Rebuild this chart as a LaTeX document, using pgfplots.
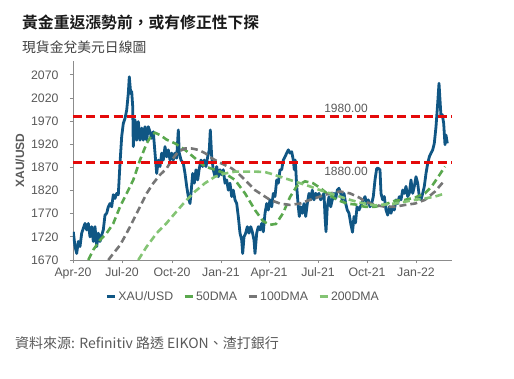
\documentclass[border=0pt]{standalone}
\usepackage{pgfplots}
\pgfplotsset{compat=1.18}
\usepackage{fontspec}
\setmainfont{Liberation Sans}
\newfontfamily\cjk{Noto Sans CJK TC}
\newfontfamily\cjkb{Noto Sans CJK TC Bold}
\definecolor{xaublue}{RGB}{16,86,132}
\definecolor{mafifty}{RGB}{90,168,78}
\definecolor{mahund}{RGB}{118,118,118}
\definecolor{matwo}{RGB}{132,196,116}
\definecolor{refred}{RGB}{228,10,10}
\definecolor{labelgray}{RGB}{89,89,89}
\definecolor{axisgray}{RGB}{140,140,140}
\begin{document}
\begin{tikzpicture}
\path[use as bounding box] (0pt,0pt) rectangle (514pt,-379pt);
\node[anchor=west, inner sep=0pt, font=\cjkb\fontsize{15.8}{17}\selectfont, text=black!90] at (22pt,-22pt) {黃金重返漲勢前，或有修正性下探};
\node[anchor=west, inner sep=0pt, font=\cjk\fontsize{13.8}{15}\selectfont, text=black!75] at (22pt,-47pt) {現貨金兌美元日線圖};
\node[anchor=west, inner sep=0pt, font=\cjk\fontsize{14}{15}\selectfont, text=labelgray] at (15pt,-343pt) {資料來源: Refinitiv 路透 EIKON、渣打銀行};
\begin{axis}[
  at={(73pt,-260pt)}, anchor=south west,
  scale only axis, width=379pt, height=199pt,
  xmin=0, xmax=379, ymin=1670, ymax=2100,
  xtick={0,49,99,148,196,245,294,343},
  xticklabels={Apr-20,Jul-20,Oct-20,Jan-21,Apr-21,Jul-21,Oct-21,Jan-22},
  ytick={1670,1720,...,2070},
  axis x line*=bottom, axis y line*=left,
  axis line style={axisgray, line width=0.8pt},
  tick style={axisgray, line width=0.8pt},
  tick align=outside, major tick length=3pt,
  /pgf/number format/assume math mode=true,
  /pgf/number format/1000 sep={},
  ticklabel style={font=\fontsize{12.3}{13}\selectfont, text=labelgray},
  yticklabel style={xshift=-8pt},
  xticklabel style={yshift=-1pt},
  ylabel={\textbf{XAU/USD}},
  ylabel style={at={(axis description cs:-0.14,0.5)}, anchor=center, font=\fontsize{12}{13}\selectfont, text=labelgray},
  clip=true,
  legend style={at={(0.449,-0.184)}, anchor=center, draw=none, fill=none,
    font=\fontsize{12.3}{13}\selectfont, text=labelgray, inner sep=0pt,
    /tikz/every even column/.append style={column sep=8pt}},
  legend columns=4,
  legend cell align=left,
  legend image code/.code={\draw[#1, solid, line width=3pt] (0pt,0pt) -- (8pt,0pt);},
]
\addplot[draw=xaublue, line width=2.8pt, line join=round] coordinates {
(0.3,1731)(2,1699)(3.7,1684)(5.3,1710)(7,1699)(8.7,1728)(12,1749)(13.7,1735)(15.3,1749)(17,1720)
(18.7,1742)(20.3,1710)(22,1742)(23.7,1699)(25.3,1728)(27,1710)(28.7,1724)(30.3,1735)(32,1767)(33.7,1771)
(35.3,1785)(37,1792)(38.7,1785)(40.3,1811)(42,1803)(43.7,1814)(45.3,1811)(47,1879)(48.7,1937)(50.3,1965)
(52,1976)(53.7,1994)(55.3,2030)(56.3,2066)(57.7,2030)(58.7,2034)(59.7,2002)(60.3,1915)(62,1973)(63.7,1929)
(65.3,1969)(67,1929)(68.7,1955)(70.3,1929)(72,1958)(73.7,1929)(75.3,1958)(77,1947)(78.7,1933)(80.3,1947)
(82,1901)(83.7,1857)(85.3,1886)(87,1872)(88.7,1901)(90.3,1886)(92,1915)(93.7,1893)(95.3,1908)(97,1886)
(98.7,1901)(100.3,1886)(102,1901)(103.7,1890)(105.3,1951)(106.3,1901)(108,1886)(110.3,1879)(112,1857)(113.7,1829)
(115.3,1807)(117,1792)(118,1814)(119.7,1857)(121.3,1836)(123,1865)(124.7,1843)(126.3,1868)(128,1886)(129.7,1872)
(131.3,1886)(133,1872)(134.7,1893)(136.3,1908)(137.3,1951)(138.7,1893)(140.3,1865)(142,1850)(143.7,1872)(145.3,1850)
(147,1865)(148.7,1854)(150.3,1865)(152,1836)(153.7,1843)(155.3,1821)(157,1836)(158.7,1807)(160.3,1821)(162,1800)
(163.7,1792)(165.3,1764)(167,1728)(168.7,1713)(169.7,1684)(171,1720)(172.7,1728)(174.3,1742)(176,1728)(177.7,1742)
(179.3,1731)(181,1713)(182,1684)(183.7,1728)(185.3,1742)(187,1735)(188.7,1749)(190.3,1731)(192,1771)(193.7,1792)
(195.3,1778)(197,1800)(198.7,1785)(200.3,1814)(202,1807)(203.7,1843)(205.3,1836)(207,1865)(208.7,1865)(210.3,1886)
(212,1893)(213.7,1901)(215.3,1908)(217,1901)(218.7,1904)(220.3,1886)(221.3,1865)(222.3,1886)(223.7,1829)(225.3,1785)
(226.3,1764)(227.7,1785)(229.3,1771)(231,1792)(232.7,1764)(234.3,1792)(236,1814)(237.7,1800)(239.3,1821)(241,1800)
(242.7,1814)(244.3,1807)(246,1814)(247.7,1800)(249.3,1807)(251,1814)(252,1764)(253,1731)(254.3,1785)(256,1807)
(257.7,1785)(259.3,1800)(261,1814)(262.7,1803)(264.3,1821)(266,1825)(267.7,1814)(269.3,1800)(271,1814)(272.7,1792)
(274.3,1778)(276,1771)(277.7,1749)(279.5,1730)(281,1764)(282.5,1750)(284,1785)(286,1778)(288.7,1792)(292,1807)
(293.7,1792)(295.3,1800)(297,1785)(298.7,1792)(300.3,1807)(302,1843)(303.7,1868)(305.3,1868)(307,1865)(308,1814)
(309.7,1800)(311.3,1807)(313,1778)(314.7,1767)(316.3,1785)(318,1771)(319.7,1785)(321.3,1778)(323,1800)(324.7,1792)
(326.3,1807)(328,1800)(329.7,1821)(331.3,1814)(333,1829)(334.7,1807)(336.3,1814)(338,1843)(339.7,1814)(341.3,1829)
(343,1850)(344.7,1836)(346.3,1807)(348,1800)(349.7,1814)(351.3,1829)(353,1857)(354.7,1879)(356.3,1893)(358,1901)
(359.7,1908)(361.3,1922)(363,1958)(364.7,2009)(366,2052)(367,2016)(368,1980)(369.3,1984)(370.7,1965)(372,1919)
(373,1940)(374.3,1922)
};
\addlegendentry{XAU/USD}
\addplot[draw=mafifty, line width=2.6pt, dash pattern=on 7pt off 4pt] coordinates {
(15.3,1670)(20.3,1692)(27,1713)(33.7,1728)(40.3,1749)(47,1785)(53.7,1814)(60.3,1843)(67,1886)(73.7,1922)
(78.7,1940)(82,1945)(87,1940)(93.7,1930)(102,1922)(112,1908)(122,1890)(132,1872)(142,1865)(152,1857)
(162,1843)(172,1814)(182,1778)(190,1754)(197,1746)(203,1748)(210,1771)(217,1806)(224,1830)(232,1840)
(240,1836)(247,1826)(254,1814)(264,1800)(274,1792)(282,1790)(292,1785)(302,1785)(312,1790)(322,1798)
(332,1800)(342,1805)(352,1814)(358.7,1829)(365.3,1850)(372,1872)
};
\addlegendentry{50DMA}
\addplot[draw=mahund, line width=2.6pt, dash pattern=on 7pt off 4pt] coordinates {
(35.3,1670)(40.3,1684)(47,1702)(53.7,1728)(60.3,1756)(67,1785)(73.7,1814)(80.3,1836)(87,1854)(93.7,1868)
(98.7,1886)(105.3,1904)(112,1911)(118.7,1911)(125.3,1908)(132,1901)(138.7,1890)(145.3,1882)(152,1875)(158.7,1868)
(165.3,1857)(172,1843)(182,1821)(192,1807)(197,1800)(207,1792)(217,1789)(227,1792)(237,1800)(247,1807)
(257,1814)(267,1818)(277,1814)(287,1804)(292,1796)(302,1789)(312,1785)(322,1785)(332,1789)(342,1792)
(352,1800)(362,1818)(372,1843)
};
\addlegendentry{100DMA}
\addplot[draw=matwo, line width=2.6pt, dash pattern=on 7pt off 4pt] coordinates {
(65.3,1670)(73.7,1699)(83.7,1728)(93.7,1750)(102,1771)(112,1796)(122,1818)(132,1836)(142,1850)(152,1857)
(162,1861)(172,1861)(182,1861)(192,1860)(197,1857)(207,1850)(217,1843)(227,1836)(237,1829)(247,1821)
(257,1814)(267,1807)(277,1800)(287,1794)(302,1788)(322,1792)(332,1796)(342,1800)(352,1803)(362,1807)
(372,1814)
};
\addlegendentry{200DMA}
\addplot[forget plot, draw=refred, line width=2.8pt, dash pattern=on 9pt off 4.5pt] coordinates {(0,1980)(379,1980)};
\addplot[forget plot, draw=refred, line width=2.8pt, dash pattern=on 9pt off 4.5pt] coordinates {(0,1880)(379,1880)};
\node[anchor=south, font=\fontsize{12}{13}\selectfont, text=labelgray] at (axis cs:273,1980) {1980.00};
\node[anchor=north, font=\fontsize{12}{13}\selectfont, text=labelgray, yshift=-1pt] at (axis cs:273,1880) {1880.00};
\end{axis}
\end{tikzpicture}
\end{document}
